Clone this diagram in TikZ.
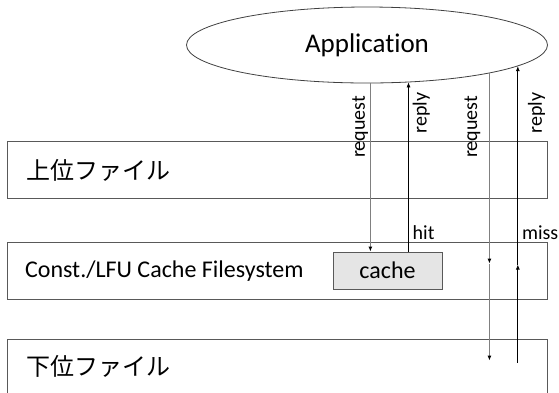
\documentclass[tikz,border=0pt]{standalone}
\usepackage{fontspec}
\setmainfont{Carlito}[Ligatures=NoCommon]
\newfontfamily\jpfont{Noto Sans CJK JP}
\usetikzlibrary{shapes.geometric,arrows.meta,calc}

\tikzset{
    layerbox/.style={draw=black!65, line width=0.9pt, minimum width=540pt, minimum height=57pt, inner sep=0pt},
    reqline/.style={draw=black!50, line width=1.5pt, -{Latex[length=5pt,width=4pt,color=black]}},
    repline/.style={draw=black, line width=0.7pt, -{Latex[length=5pt,width=4pt]}},
    vlabel/.style={rotate=90, inner sep=1pt, font=\fontsize{20}{24}\selectfont},
    flag/.style={inner sep=1pt, font=\fontsize{20}{24}\selectfont},
}

\begin{document}
\begin{tikzpicture}[x=1pt, y=-1pt]
        \useasboundingbox (0,0) rectangle (559,392);
        \clip (0,0) rectangle (559,392);

        % ==========================================
        % Application
        % ==========================================
        \node[ellipse, draw=black!75, line width=0.8pt, minimum width=361pt, minimum height=76pt,
              font=\fontsize{27}{32}\selectfont] (app) at (367,45) {Application};

        % ==========================================
        % Capas
        % ==========================================
        \node[layerbox] (upper) at (277,170) {};
        \node[anchor=west, font=\jpfont\fontsize{24}{30}\selectfont] (uppertxt) at ($(upper.west)+(16,0)$) {上位ファイル};

        \node[layerbox] (middle) at (277,270.5) {};
        \node[anchor=west, font=\fontsize{24}{28}\selectfont] (middletxt) at ($(middle.west)+(15,1)$) {Const./LFU Cache Filesystem};
        \node[draw=black!65, line width=0.9pt, fill=black!10, minimum width=109pt, minimum height=37pt,
              font=\fontsize{24}{28}\selectfont] (cache) at (387.5,270.5) {cache};

        \node[layerbox] (lower) at (277,367.5) {};
        \node[anchor=west, font=\jpfont\fontsize{24}{30}\selectfont] (lowertxt) at ($(lower.west)+(16,-1)$) {下位ファイル};

        % ==========================================
        % Hit
        % ==========================================
        \draw[reqline] (app.-85.5) -- (app.-85.5 |- cache.north);
        \draw[repline] (cache.north -| app.-42.8) -- (app.-42.8);
        \node[vlabel, anchor=south] (rq1) at ($(app.-85.5 |- 0,127)+(-1,0)$) {request};
        \node[vlabel, anchor=north] (rp1) at ($(app.-42.8 |- 0,113)+(3,0)$) {reply};
        \node[flag, anchor=south west] (hit) at ($(middle.north -| app.-42.8)+(3,-1)$) {hit};

        % ==========================================
        % Miss
        % ==========================================
        \coordinate (rq2mid) at ($(app.-13.7 |- middle.north)+(0,22)$);
        \coordinate (rq2end) at ($(app.-13.7 |- lower.north)+(0,22)$);
        \draw[reqline] (app.-13.7) -- (rq2mid);
        \draw[reqline] (rq2mid) -- (rq2end);
        \node[vlabel, anchor=south] (rq2) at ($(app.-13.7 |- 0,127)+(-8,0)$) {request};

        \coordinate (rp2start) at ($(app.-8 |- lower.north)+(0,24)$);
        \coordinate (rp2mid) at ($(app.-8 |- middle.north)+(0,23)$);
        \draw[repline] (rp2start) -- (rp2mid);
        \draw[repline] (rp2mid) -- (app.-8);
        \node[vlabel, anchor=north] (rp2) at ($(app.-8 |- 0,113)+(9,0)$) {reply};
        \node[flag, anchor=south west] (miss) at ($(middle.north -| app.-8)+(3,-1)$) {miss};

\end{tikzpicture}
\end{document}
